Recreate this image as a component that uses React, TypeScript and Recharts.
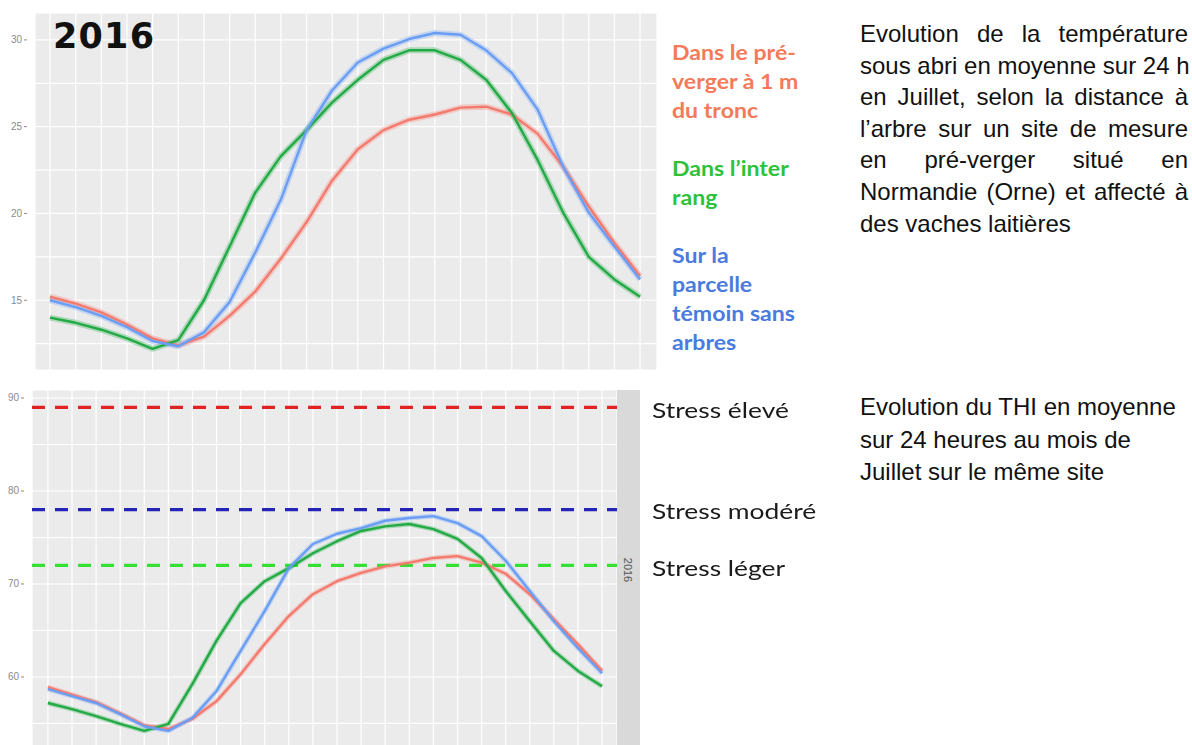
import React from 'react';
import { LineChart, Line, XAxis, YAxis, CartesianGrid, ReferenceLine } from 'recharts';

// heures de la journée (moyenne sur 24 h, juillet 2016)
const HOURS = [0, 1, 2, 3, 4, 5, 6, 7, 8, 9, 10, 11, 12, 13, 14, 15, 16, 17, 18, 19, 20, 21, 22, 23];

// température sous abri (°C)
const TEMP_PREVERGER = [15.2, 14.8, 14.3, 13.6, 12.8, 12.4, 12.9, 14.1, 15.5, 17.4, 19.5, 21.9, 23.7, 24.8, 25.4, 25.7, 26.1, 26.15, 25.7, 24.6, 22.7, 20.4, 18.3, 16.4];
const TEMP_INTERRANG = [14.0, 13.7, 13.3, 12.8, 12.2, 12.7, 15.0, 18.1, 21.2, 23.3, 24.8, 26.4, 27.7, 28.85, 29.4, 29.4, 28.85, 27.7, 25.8, 23.1, 20.05, 17.5, 16.2, 15.2];
const TEMP_TEMOIN = [15.0, 14.6, 14.1, 13.45, 12.65, 12.35, 13.15, 14.9, 17.75, 20.8, 24.8, 27.1, 28.7, 29.5, 30.05, 30.4, 30.3, 29.4, 28.1, 26.0, 22.7, 20.05, 18.1, 16.2];

// THI
const THI_PREVERGER = [58.9, 58.1, 57.3, 56.1, 54.8, 54.4, 55.5, 57.4, 60.3, 63.55, 66.55, 68.9, 70.3, 71.2, 71.9, 72.3, 72.8, 73.0, 72.3, 71.1, 68.9, 66.2, 63.5, 60.65];
const THI_INTERRANG = [57.2, 56.55, 55.8, 54.95, 54.2, 54.95, 59.25, 63.9, 67.95, 70.3, 71.7, 73.3, 74.6, 75.7, 76.2, 76.45, 75.9, 74.85, 72.8, 69.25, 66.0, 62.8, 60.65, 59.0];
const THI_TEMOIN = [58.7, 57.95, 57.2, 56.0, 54.7, 54.2, 55.6, 58.5, 62.8, 67.1, 71.7, 74.3, 75.4, 76.0, 76.8, 77.1, 77.3, 76.55, 75.15, 72.5, 69.25, 66.0, 63.1, 60.4];

// seuils de stress THI
const STRESS_LEGER = 72;
const STRESS_MODERE = 78;
const STRESS_ELEVE = 89;

const TEMP_MAJOR = [15, 20, 25, 30];
const TEMP_GRID = [12.5, 15, 17.5, 20, 22.5, 25, 27.5, 30];
const THI_MAJOR = [60, 70, 80, 90];
const THI_GRID = [55, 60, 65, 70, 75, 80, 85, 90];

const RED = '#F47A6E';
const GREEN = '#22AA44';
const BLUE = '#6A9EF5';

const tempData = HOURS.map((h, i) => ({
  h,
  preverger: TEMP_PREVERGER[i],
  interrang: TEMP_INTERRANG[i],
  temoin: TEMP_TEMOIN[i],
}));

const thiData = HOURS.map((h, i) => ({
  h,
  preverger: THI_PREVERGER[i],
  interrang: THI_INTERRANG[i],
  temoin: THI_TEMOIN[i],
}));

// only label the major breaks, minor ones just feed the grid
// eslint-disable-next-line @typescript-eslint/no-explicit-any
const MajorTick = ({ x, y, payload, majors }: any) => {
  if (!majors.includes(payload.value)) return <g />;
  return (
    <g>
      <line x1={x - 3} x2={x} y1={y} y2={y} stroke="#8a8a8a" strokeWidth={1} />
      <text x={x - 5} y={y} dy={3.5} textAnchor="end" fill="#8a8a8a" fontSize={10} fontFamily="Liberation Sans, Arial, sans-serif">
        {payload.value}
      </text>
    </g>
  );
};

const NoTick = () => <g />;

const seriesLines = (ribbonWidth: number) => {
  const defs = [
    { key: 'preverger', color: RED },
    { key: 'interrang', color: GREEN },
    { key: 'temoin', color: BLUE },
  ];
  return [
    ...defs.map((d) => (
      <Line
        key={`rib-${d.key}`}
        type="linear"
        dataKey={d.key}
        stroke={d.color}
        strokeOpacity={0.3}
        strokeWidth={ribbonWidth}
        strokeLinejoin="round"
        dot={false}
        activeDot={false}
        isAnimationActive={false}
      />
    )),
    ...defs.map((d) => (
      <Line
        key={`line-${d.key}`}
        type="linear"
        dataKey={d.key}
        stroke={d.color}
        strokeWidth={2.4}
        strokeLinejoin="round"
        dot={false}
        activeDot={false}
        isAnimationActive={false}
      />
    )),
  ];
};

const sans = 'Liberation Sans, Arial, sans-serif';

const Lines = ({ lines, top, left, lineHeight, style }: { lines: string[]; top: number; left: number; lineHeight: number; style: React.CSSProperties }) => (
  <div style={{ position: 'absolute', top, left, lineHeight: `${lineHeight}px`, whiteSpace: 'nowrap', ...style }}>
    {lines.map((l) => (
      <div key={l}>{l}</div>
    ))}
  </div>
);

const JUSTIFIED = [
  'Evolution de la température',
  'sous abri en moyenne sur 24 h',
  'en Juillet, selon la distance à',
  'l’arbre sur un site de mesure',
  'en pré-verger situé en',
  'Normandie (Orne) et affecté à',
];

export default function App() {
  return (
    <div style={{ position: 'absolute', left: 0, top: 0, width: 1192, height: 745, overflow: 'hidden', background: '#fff' }}>
      <LineChart width={660} height={372} data={tempData} margin={{ top: 13, right: 3, bottom: 1, left: 0 }} style={{ position: 'absolute', left: 0, top: 0 }}>
        <CartesianGrid fill="#EBEBEB" stroke="#FFFFFF" strokeWidth={1.2} />
        <XAxis dataKey="h" type="number" domain={[-0.585, 23.66]} ticks={HOURS} interval={0} allowDataOverflow tick={<NoTick />} axisLine={false} tickLine={false} height={1} />
        <YAxis type="number" domain={[10.98, 31.55]} ticks={TEMP_GRID} allowDataOverflow interval={0} width={35} axisLine={false} tickLine={false} tick={<MajorTick majors={TEMP_MAJOR} />} />
        {seriesLines(6)}
      </LineChart>

      <div style={{ position: 'absolute', left: 53, top: 19, fontFamily: 'DejaVu Sans, sans-serif', fontWeight: 700, fontSize: 35, lineHeight: '35px', letterSpacing: 1.2, color: '#111' }}>
        2016
      </div>

      <div style={{ position: 'absolute', left: 672, top: 0, fontFamily: 'Lato, sans-serif', fontWeight: 700, fontSize: 21, transform: 'scaleX(1.1)', transformOrigin: 'left top' }}>
        <Lines lines={['Dans le pré-', 'verger à 1 m', 'du tronc']} top={37} left={0} lineHeight={29} style={{ color: '#F47A5A' }} />
        <Lines lines={['Dans l’inter', 'rang']} top={153} left={0} lineHeight={29} style={{ color: '#2EC23A' }} />
        <Lines lines={['Sur la', 'parcelle', 'témoin sans', 'arbres']} top={240} left={0} lineHeight={29} style={{ color: '#4A7BDF' }} />
      </div>

      <div style={{ position: 'absolute', left: 860, top: 18, width: 328, fontFamily: sans, fontSize: 24, lineHeight: '31.6px', color: '#111' }}>
        {JUSTIFIED.map((l) => (
          <div key={l} style={{ textAlign: 'justify', textAlignLast: 'justify', whiteSpace: 'nowrap' }}>{l}</div>
        ))}
        <div>des vaches laitières</div>
      </div>

      <LineChart width={617} height={368} data={thiData} margin={{ top: 10, right: 0, bottom: 0, left: 0 }} style={{ position: 'absolute', left: 0, top: 380 }}>
        <CartesianGrid fill="#EBEBEB" stroke="#FFFFFF" strokeWidth={1.2} />
        <XAxis dataKey="h" type="number" domain={[-0.66, 23.62]} ticks={HOURS} interval={0} allowDataOverflow tick={<NoTick />} axisLine={false} tickLine={false} height={1} />
        <YAxis type="number" domain={[52.47, 90.86]} ticks={THI_GRID} allowDataOverflow interval={0} width={32} axisLine={false} tickLine={false} tick={<MajorTick majors={THI_MAJOR} />} />
        <ReferenceLine y={STRESS_ELEVE} stroke="#E02222" strokeWidth={3.2} strokeDasharray="13 10" />
        <ReferenceLine y={STRESS_MODERE} stroke="#2424B8" strokeWidth={3.2} strokeDasharray="13 10" />
        <ReferenceLine y={STRESS_LEGER} stroke="#33E033" strokeWidth={3.2} strokeDasharray="13 10" />
        {seriesLines(5)}
      </LineChart>

      <div style={{ position: 'absolute', left: 617, top: 390, width: 23, height: 360, background: '#D9D9D9', display: 'flex', alignItems: 'center', justifyContent: 'center' }}>
        <div style={{ transform: 'rotate(90deg)', fontFamily: sans, fontSize: 11, color: '#555' }}>2016</div>
      </div>

      <div style={{ position: 'absolute', left: 652, top: 0, fontFamily: 'Lato, sans-serif', fontSize: 22, color: '#1a1a1a', transform: 'scaleX(1.2)', transformOrigin: 'left top', lineHeight: '26px' }}>
        <div style={{ position: 'absolute', top: 397, whiteSpace: 'nowrap' }}>Stress élevé</div>
        <div style={{ position: 'absolute', top: 498, whiteSpace: 'nowrap' }}>Stress modéré</div>
        <div style={{ position: 'absolute', top: 555, whiteSpace: 'nowrap' }}>Stress léger</div>
      </div>

      <Lines
        lines={['Evolution du THI en moyenne', 'sur 24 heures au mois de', 'Juillet sur le même site']}
        top={391}
        left={860}
        lineHeight={32.5}
        style={{ fontFamily: sans, fontSize: 24, color: '#111' }}
      />
    </div>
  );
}
